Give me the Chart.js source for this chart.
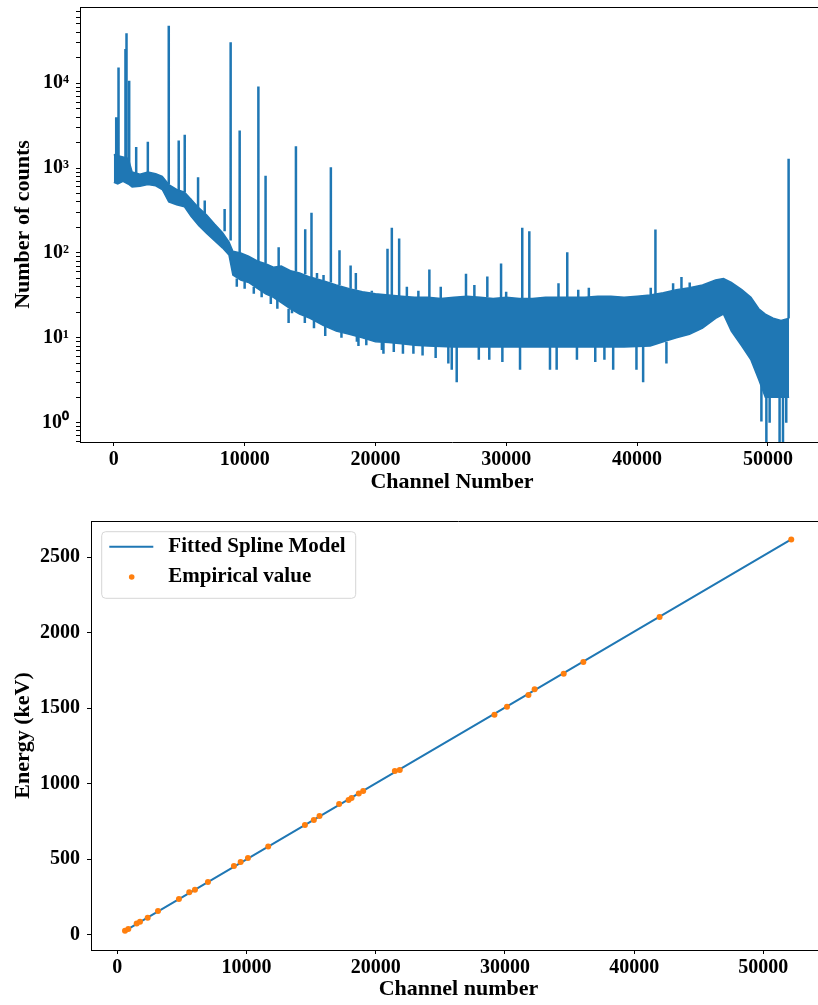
<!DOCTYPE html>
<html><head><meta charset="utf-8">
<script src="https://cdn.jsdelivr.net/npm/chart.js@4/dist/chart.umd.min.js"></script>
<style>
html,body{margin:0;padding:0;background:#fff;overflow:hidden;width:818px;height:1005px;}
#w1{position:absolute;left:0;top:0;width:830px;height:500px;}
#w2{position:absolute;left:0;top:500px;width:830px;height:505px;}
</style></head><body>
<div id="w1"><canvas id="c1" width="830" height="500"></canvas></div>
<div id="w2"><canvas id="c2" width="830" height="505"></canvas></div>
<script>
// ---------- Top chart: spectrum (log counts vs channel) ----------
// Noise band envelope
const bandChannel = [0,300,700,1100,1400,2000,2600,3200,3700,4200,4800,5400,5900,6500,7100,7700,8300,8800,9100,9700,10300,11000,11600,12200,12800,13500,14200,15000,16000,17000,18000,19000,20000,21000,22000,23000,24000,25000,26000,27000,28000,29000,30000,31000,32000,33000,34000,35000,36000,37000,38000,39000,40000,41000,42000,43000,44000,45000,46000,46600,47200,48000,48700,49300,49800,50400,51000,51620];
const bandUpper = [1450,1400,1350,1300,900,850,900,860,800,640,560,520,430,340,280,220,175,135,105,100,92,80,75,68,70,62,58,52,47,42,38,35,33,32,31,30,30,29,30,31,30,29,30,29,29,30,30,30,30,31,31,30,31,32,34,37,39,42,48,50,45,37,30,22,19,17,16,17];
const bandLower = [680,650,700,650,600,610,640,620,560,400,370,350,270,210,170,140,115,95,55,48,45,38,33,30,26,22,19,17,14,12,11,10,9,8.8,8.5,8.2,8,7.9,7.8,7.8,7.8,7.8,7.8,7.8,7.8,7.8,7.8,7.8,7.8,7.8,7.8,7.8,7.9,8,9,10,11,13,17,19,12,8,5.5,3.2,2,2,2,2];
// Peaks (upward spikes)
const peakChannel = [183,360,890,970,1175,1710,2600,4200,4960,5420,5850,6440,6950,8470,8930,9620,11050,11600,12600,13920,14630,15110,15530,16030,16590,17250,18100,18500,19720,20920,21250,21810,22400,23280,24120,24990,26920,27560,28550,29600,29990,31220,31760,33990,34660,35500,36310,41040,41400,42750,43390,44020,51580];
const peakCounts  = [3980,15400,25300,39000,10700,1780,2050,47800,2120,2480,435,780,417,330,30500,2770,9150,816,117,1810,190,298,58,55,1025,108,71,58,36,112,199,148,40,36,64,40,57,42,53,75,35,199,181,44,102,37,39,39,189,44,52,45,1290];
const peakBase    = [1300,1300,1300,1300,900,850,900,640,540,520,400,340,290,180,140,100,80,75,68,60,56,52,50,47,45,42,38,37,34,32,32,31,31,30,30,29,31,30,30,29,30,29,29,30,30,30,30,32,32,35,38,39,17];
// Dips (downward spikes)
const dipChannel = [9400,10000,10700,11300,12000,12500,13360,13620,14600,15300,16160,17400,18580,18700,19300,20490,20610,21400,22100,22900,23600,24600,25570,25830,26210,27900,28700,29700,31050,33340,33850,35400,36800,37500,38170,39950,40460,42240,49500,49880,50130,50890,51150,51400];
const dipCounts  = [40,38,33,30,25,22,15,19.5,15,13,10.5,10,9,8,8.2,7.2,6.5,6.8,6.5,6.5,6.2,5.8,5,4.2,3.0,5.5,5.5,5.2,4.2,4.2,4.2,5.5,5.2,5.5,4.2,4.2,3.0,5,1.03,0.3,1.0,0.3,0.3,1.0];
const dipBase    = [50,46,40,36,31,28,22,22,18,16,14,12,11,10.5,10,9,9,8.8,8.5,8.3,8.2,8,8,7.9,7.8,7.8,7.8,7.8,7.8,7.8,7.8,7.8,7.8,7.8,7.8,7.8,7.9,9,3,2,2,2,2,2];
const topXTicks = [0,10000,20000,30000,40000,50000];
const topYMajor = [1,10,100,1000,10000];
const topYLabels = ['10\u2070','10\u00B9','10\u00B2','10\u00B3','10\u2074'];

// ---------- Bottom chart: calibration ----------
const empChannel = [595,850,1500,1755,2350,3150,4770,5570,6010,7015,9025,9545,10110,11680,14520,15210,15650,17170,17900,18130,18690,19030,21480,21860,29190,30160,31820,32300,34550,36070,41970,52160];
const empEnergy  = [26,38,75,86,113,157,236,281,298,349,455,481,508,585,726,760,786,866,892,905,936,952,1084,1091,1457,1510,1587,1625,1728,1806,2104,2618];
const splineChannel = [595,10000,20000,30000,40000,52160];
const splineEnergy  = [26,499,1002,1504,2007,2618];
const botXTicks = [0,10000,20000,30000,40000,50000];
const botYTicks = [0,500,1000,1500,2000,2500];

const BLUE = '#1f77b4', ORANGE = '#ff7f0e';
const FONT = 'Liberation Serif';
const tickFont = {family: FONT, size: 20, weight: 'bold'};
const titleFont = {family: FONT, size: 22, weight: 'bold'};

const framePlugin = {
  id: 'frame',
  afterDraw(chart) {
    const {ctx, chartArea: a} = chart;
    ctx.save();
    ctx.strokeStyle = '#000';
    ctx.lineWidth = 1;
    ctx.beginPath();
    ctx.moveTo(a.left, a.top + 0.5);
    ctx.lineTo(a.right, a.top + 0.5);
    ctx.lineTo(a.right - 0.5, a.bottom);
    ctx.stroke();
    ctx.restore();
  }
};

function axisCommon() {
  return {
    grid: {display: true, drawOnChartArea: false, drawTicks: true, tickLength: 4, tickColor: '#000', tickWidth: 1},
    border: {display: true, color: '#000', width: 1},
  };
}
function fixY(width) {
  return s => { s.width = width; s.paddingTop = 0; s.paddingBottom = 0; };
}

// Build top datasets
const bandUpperData = bandChannel.map((c, i) => ({x: c, y: bandUpper[i]}));
const bandLowerData = bandChannel.map((c, i) => ({x: c, y: bandLower[i]}));
const spikeData = [];
peakChannel.forEach((c, i) => { spikeData.push({x: c, y: peakBase[i]}, {x: c, y: peakCounts[i]}, {x: c, y: null}); });
dipChannel.forEach((c, i) => { spikeData.push({x: c, y: dipBase[i]}, {x: c, y: dipCounts[i]}, {x: c, y: null}); });

const yMin = 0.592, yMax = 79300;
new Chart(document.getElementById('c1'), {
  type: 'scatter',
  data: {
    datasets: [
      {data: bandUpperData, showLine: true, borderColor: BLUE, backgroundColor: BLUE, borderWidth: 1.5, pointRadius: 0, tension: 0},
      {data: bandLowerData, showLine: true, borderColor: BLUE, backgroundColor: BLUE, borderWidth: 1.5, pointRadius: 0, tension: 0, fill: '-1'},
      {data: spikeData, showLine: true, spanGaps: false, borderColor: BLUE, borderWidth: 2.5, pointRadius: 0, tension: 0}
    ]
  },
  options: {
    responsive: false, animation: false, events: [],
    layout: {padding: {top: 7, right: 6, left: 0, bottom: 0}},
    plugins: {legend: {display: false}, tooltip: {enabled: false}},
    scales: {
      x: Object.assign(axisCommon(), {
        type: 'linear', min: -2585, max: 54285,
        afterBuildTicks: s => { s.ticks = topXTicks.map(v => ({value: v})); },
        afterFit: s => { s.height = 58; },
        ticks: {font: tickFont, color: '#000', padding: 2, autoSkip: false, maxRotation: 0, callback: v => String(v)},
        title: {display: true, text: 'Channel Number', font: titleFont, color: '#000', padding: {top: 0, bottom: 4}}
      }),
      y: Object.assign(axisCommon(), {
        type: 'logarithmic', min: yMin, max: yMax,
        afterBuildTicks: s => {
          const t = [];
          [0.1, 1, 10, 100, 1000, 10000].forEach(d => {
            for (let m = 1; m <= 9; m++) { const v = m * d; if (v >= yMin && v <= yMax) t.push({value: v}); }
          });
          s.ticks = t;
        },
        afterFit: fixY(80),
        ticks: {font: tickFont, color: '#000', padding: 7, autoSkip: false,
          callback: v => { const k = topYMajor.findIndex(m => Math.abs(m - v) < 1e-6 * m); return k >= 0 ? topYLabels[k] : ''; }},
        title: {display: true, text: 'Number of counts', font: titleFont, color: '#000', padding: {top: 10, bottom: 0}}
      })
    }
  },
  plugins: [framePlugin]
});

// Bottom chart
const legendPlugin = {
  id: 'boxLegend',
  afterDraw(chart) {
    const {ctx, chartArea: a} = chart;
    const x0 = a.left + 10.7, y0 = a.top + 10.7, w = 254, h = 66.6, r = 4;
    ctx.save();
    ctx.beginPath();
    ctx.moveTo(x0 + r, y0);
    ctx.arcTo(x0 + w, y0, x0 + w, y0 + h, r);
    ctx.arcTo(x0 + w, y0 + h, x0, y0 + h, r);
    ctx.arcTo(x0, y0 + h, x0, y0, r);
    ctx.arcTo(x0, y0, x0 + w, y0, r);
    ctx.closePath();
    ctx.fillStyle = 'rgba(255,255,255,0.8)';
    ctx.fill();
    ctx.strokeStyle = '#d6d6d6';
    ctx.lineWidth = 1;
    ctx.stroke();
    ctx.strokeStyle = BLUE; ctx.lineWidth = 2;
    ctx.beginPath(); ctx.moveTo(x0 + 7.6, y0 + 15); ctx.lineTo(x0 + 51.6, y0 + 15); ctx.stroke();
    ctx.fillStyle = ORANGE;
    ctx.beginPath(); ctx.arc(x0 + 30, y0 + 45.3, 2.8, 0, Math.PI * 2); ctx.fill();
    ctx.fillStyle = '#000';
    ctx.font = 'bold 21px "Liberation Serif"';
    ctx.textBaseline = 'middle'; ctx.textAlign = 'left';
    const ds = chart.data.datasets;
    ctx.fillText(ds[0].label, x0 + 66.6, y0 + 15);
    ctx.fillText(ds[1].label, x0 + 66.6, y0 + 45);
    ctx.restore();
  }
};

new Chart(document.getElementById('c2'), {
  type: 'scatter',
  data: {
    datasets: [
      {label: 'Fitted Spline Model', data: splineChannel.map((c, i) => ({x: c, y: splineEnergy[i]})), showLine: true, borderColor: BLUE, borderWidth: 2, pointRadius: 0, tension: 0, order: 2},
      {label: 'Empirical value', data: empChannel.map((c, i) => ({x: c, y: empEnergy[i]})), showLine: false, backgroundColor: ORANGE, borderWidth: 0, pointRadius: 3, order: 1}
    ]
  },
  options: {
    responsive: false, animation: false, events: [],
    layout: {padding: {top: 21, right: 4, left: 0, bottom: 0}},
    plugins: {legend: {display: false}, tooltip: {enabled: false}},
    scales: {
      x: Object.assign(axisCommon(), {
        type: 'linear', min: -2036, max: 54850,
        afterBuildTicks: s => { s.ticks = botXTicks.map(v => ({value: v})); },
        afterFit: s => { s.height = 55; },
        ticks: {font: tickFont, color: '#000', padding: 2, autoSkip: false, maxRotation: 0, callback: v => String(v)},
        title: {display: true, text: 'Channel number', font: titleFont, color: '#000', padding: {top: 0, bottom: 2}}
      }),
      y: Object.assign(axisCommon(), {
        type: 'linear', min: -101, max: 2740,
        afterBuildTicks: s => { s.ticks = botYTicks.map(v => ({value: v})); },
        afterFit: fixY(91),
        ticks: {font: tickFont, color: '#000', padding: 7, autoSkip: false, callback: v => String(v)},
        title: {display: true, text: 'Energy (keV)', font: titleFont, color: '#000', padding: {top: 10, bottom: 0}}
      })
    }
  },
  plugins: [framePlugin, legendPlugin]
});
</script>
</body></html>
